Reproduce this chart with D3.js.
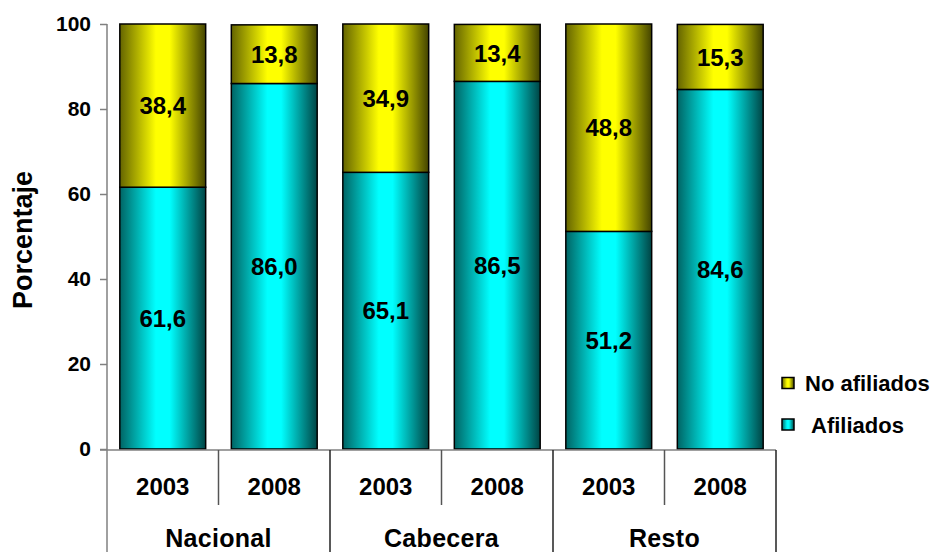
<!DOCTYPE html>
<html><head><meta charset="utf-8">
<script src="https://cdn.jsdelivr.net/npm/d3@7"></script>
<style>body{margin:0;background:#fff}svg{font-family:"Liberation Sans",Arial,sans-serif;font-weight:bold}</style>
</head><body><svg id="c" width="933" height="552"></svg>
<script>
const years = ["2003","2008","2003","2008","2003","2008"];
const groups = ["Nacional","Cabecera","Resto"];
const afiliados = [61.6, 86.0, 65.1, 86.5, 51.2, 84.6];
const noAfiliados = [38.4, 13.8, 34.9, 13.4, 48.8, 15.3];
const yTicks = [0,20,40,60,80,100];
const seriesNames = ["No afiliados","Afiliados"];

(function(){
const svg = d3.select("#c");
const pL = 107, pR = 776, pT = 24, pB = 449;
const idx = d3.range(years.length);
const x = d3.scaleBand().domain(idx).range([pL,pR]).paddingInner(0.23).paddingOuter(0.115);
const xc = d3.scaleBand().domain(idx).range([pL,pR]);
const y = d3.scaleLinear().domain([0,100]).range([pB,pT]);

const defs = svg.append("defs");
function grad(id, edgeL, mid, edgeR){
  const g = defs.append("linearGradient").attr("id",id).attr("x1","0").attr("x2","1").attr("y1","0").attr("y2","0");
  g.append("stop").attr("offset","0").attr("stop-color",edgeL);
  g.append("stop").attr("offset","0.42").attr("stop-color",mid);
  g.append("stop").attr("offset","0.58").attr("stop-color",mid);
  g.append("stop").attr("offset","1").attr("stop-color",edgeR);
}
grad("gc","#006464","#00ffff","#004444");
grad("gy","#646400","#ffff00","#444400");

const fmt = v => d3.format(".1f")(v).replace(".",",");

const gBars = svg.append("g");
idx.forEach(i=>{
  const a = afiliados[i], n = noAfiliados[i];
  gBars.append("rect").attr("x",x(i)).attr("width",x.bandwidth())
    .attr("y",y(a)).attr("height",y(0)-y(a)).attr("fill","url(#gc)").attr("stroke","#000").attr("stroke-width",1.5);
  gBars.append("rect").attr("x",x(i)).attr("width",x.bandwidth())
    .attr("y",y(a+n)).attr("height",y(a)-y(a+n)).attr("fill","url(#gy)").attr("stroke","#000").attr("stroke-width",1.5);
  gBars.append("text").attr("x",x(i)+x.bandwidth()/2).attr("y",y(a/2)).attr("dy","0.36em")
    .attr("text-anchor","middle").attr("font-size",24).text(fmt(a));
  gBars.append("text").attr("x",x(i)+x.bandwidth()/2).attr("y",y(a+n/2)).attr("dy","0.36em")
    .attr("text-anchor","middle").attr("font-size",24).text(fmt(n));
});

const yAxis = svg.append("g").attr("transform",`translate(${pL},0)`)
  .call(d3.axisLeft(y).tickValues(yTicks).tickSize(7).tickPadding(9));
yAxis.select(".domain").remove();
yAxis.selectAll(".tick line").attr("stroke","#808080").attr("stroke-width",1.5);
yAxis.selectAll(".tick text").attr("font-size",21).attr("font-weight","bold").attr("font-family","Liberation Sans, Arial, sans-serif").attr("fill","#000");
svg.append("line").attr("x1",pL).attr("x2",pL).attr("y1",pT).attr("y2",552).attr("stroke","#808080").attr("stroke-width",1.5);

svg.append("line").attr("x1",pL-7).attr("x2",pR).attr("y1",pB+1).attr("y2",pB+1).attr("stroke","#808080").attr("stroke-width",1.5);
idx.forEach(i=>{
  const xe = xc(i)+xc.bandwidth();
  const isGroup = (i%2===1);
  svg.append("line").attr("x1",xe).attr("x2",xe).attr("y1",pB+1).attr("y2",isGroup?552:505)
    .attr("stroke",isGroup?"#222":"#555").attr("stroke-width",1.5);
  svg.append("text").attr("x",xc(i)+xc.bandwidth()/2).attr("y",495)
    .attr("text-anchor","middle").attr("font-size",24).text(years[i]);
});
groups.forEach((g,k)=>{
  const cx = xc(2*k)+xc.bandwidth();
  svg.append("text").attr("x",cx).attr("y",547)
    .attr("text-anchor","middle").attr("font-size",25).attr("letter-spacing","0.3px").text(g);
});

svg.append("text").attr("transform","translate(32,240) rotate(-90)").attr("text-anchor","middle")
  .attr("font-size",27).text("Porcentaje");

const leg = [{name:seriesNames[0],fill:"url(#gy)",y:383.5,tx:805},{name:seriesNames[1],fill:"url(#gc)",y:425,tx:811}];
leg.forEach(l=>{
  svg.append("rect").attr("x",782).attr("y",l.y-6).attr("width",12).attr("height",11)
    .attr("fill",l.fill).attr("stroke","#000").attr("stroke-width",1.5);
  svg.append("text").attr("x",l.tx).attr("y",l.y+7.5).attr("font-size",22).text(l.name);
});
})();
</script></body></html>
